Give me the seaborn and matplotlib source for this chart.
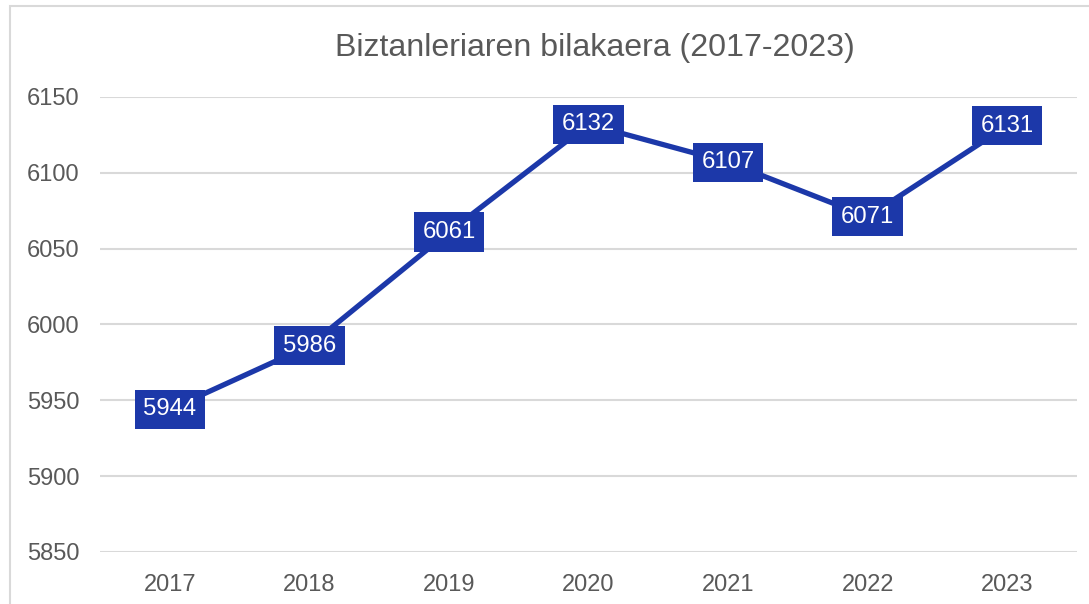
import matplotlib
matplotlib.use('Agg')
import pandas as pd
import matplotlib.pyplot as plt
import seaborn as sns
from matplotlib.patches import Rectangle

years = ['2017', '2018', '2019', '2020', '2021', '2022', '2023']
population = [5944, 5986, 6061, 6132, 6107, 6071, 6131]
y_ticks = [5850, 5900, 5950, 6000, 6050, 6100, 6150]
title = 'Biztanleriaren bilakaera (2017-2023)'

blue = '#1C38A9'
grey_text = '#595959'
grid_col = '#D9D9D9'

sns.set_style("white")
plt.rcParams['font.family'] = ['Liberation Sans', 'DejaVu Sans']

df = pd.DataFrame({'year': years, 'population': population})

fig = plt.figure(figsize=(10.89, 6.04), dpi=100)
ax = fig.add_axes([100 / 1089, 1 - 552 / 604, 977 / 1089, 455 / 604])

# light chart frame (only top/left visible, like the cropped original)
fig.patches.append(Rectangle((10 / 1089, -0.5), 2, 1 - 6 / 604 + 0.5,
                             transform=fig.transFigure, fill=False,
                             edgecolor='#D9D9D9', linewidth=1.5))

sns.lineplot(data=df, x='year', y='population', ax=ax, color=blue,
             linewidth=3.8, sort=False)

for i, (yr, val) in enumerate(zip(years, population)):
    ax.text(i, val, str(val), ha='center', va='center', color='white',
            fontsize=17.2, zorder=5,
            bbox=dict(boxstyle='square,pad=0.36', facecolor=blue,
                      edgecolor='none'))

ax.set_xlim(-0.5, len(years) - 0.5)
ax.set_ylim(5850, 6150)
ax.set_yticks(y_ticks)
ax.set_xlabel('')
ax.set_ylabel('')
ax.grid(axis='y', color=grid_col, linewidth=1.5)
ax.set_axisbelow(True)
for s in ax.spines.values():
    s.set_visible(False)
ax.tick_params(axis='both', length=0, labelsize=17, labelcolor=grey_text)
ax.tick_params(axis='y', pad=14.5)
ax.tick_params(axis='x', pad=16)

fig.text(595 / 1089, 1 - 48 / 604, title, ha='center', va='center',
         fontsize=23.1, color=grey_text)

fig.savefig('out.png', dpi=100)
